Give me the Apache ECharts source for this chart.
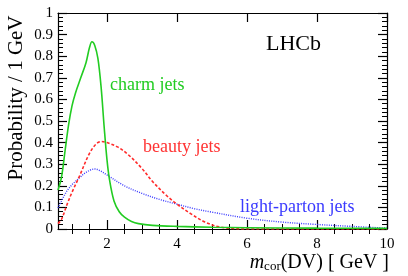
<!DOCTYPE html>
<html>
<head>
<meta charset="utf-8">
<script src="https://cdn.jsdelivr.net/npm/echarts@6/dist/echarts.min.js"></script>
<style>html,body{margin:0;padding:0;background:#fff;}#c{width:408px;height:276px;}</style>
</head>
<body>
<div id="c"></div>
<script>
// ---- data ----
const xMajorTicks = [2, 4, 6, 8, 10];
const xMinorTicks = [1, 1.5, 2.5, 3, 3.5, 4.5, 5, 5.5, 6.5, 7, 7.5, 8.5, 9, 9.5];
const yTickStep = 0.1;

const charmX = [0.6, 0.7, 0.8, 0.9, 1.0, 1.1, 1.25, 1.4, 1.5, 1.57, 1.65, 1.74, 1.83, 1.92, 2.0, 2.07, 2.2, 2.35, 2.5, 2.7, 2.9, 3.3, 4, 5, 6, 8, 10];
const charmY = [0.18, 0.24, 0.36, 0.48, 0.57, 0.63, 0.70, 0.77, 0.84, 0.867, 0.85, 0.79, 0.66, 0.47, 0.32, 0.23, 0.13, 0.08, 0.055, 0.035, 0.025, 0.017, 0.012, 0.008, 0.006, 0.004, 0.003];

const beautyX = [0.6, 0.7, 0.85, 1.0, 1.2, 1.5, 1.7, 1.85, 2.0, 2.3, 2.6, 3.0, 3.3, 3.7, 4.0, 4.4, 4.8, 5.2, 5.6, 6, 8, 10];
const beautyY = [0.025, 0.045, 0.11, 0.17, 0.24, 0.35, 0.395, 0.405, 0.4, 0.38, 0.345, 0.28, 0.22, 0.155, 0.115, 0.07, 0.032, 0.01, 0.002, 0, 0, 0];

const lightX = [0.6, 0.7, 0.85, 1.0, 1.2, 1.4, 1.65, 1.8, 2.0, 2.5, 3.0, 3.5, 4.0, 4.5, 5.0, 6.0, 7.0, 8.0, 9.0, 10.0];
const lightY = [0.097, 0.13, 0.175, 0.205, 0.235, 0.262, 0.278, 0.27, 0.25, 0.2, 0.165, 0.137, 0.115, 0.094, 0.078, 0.05, 0.032, 0.021, 0.012, 0.004];

const seriesNames = ['charm jets', 'beauty jets', 'light-parton jets'];
// ---------------

const F = '"Liberation Serif", "DejaVu Serif", serif';
const pairs = (xs, ys) => xs.map((x, i) => [x, ys[i]]);
const chart = echarts.init(document.getElementById('c'), null, {renderer: 'canvas'});

const lineBlack = {show: true, onZero: false, lineStyle: {color: '#000', width: 1.2}};
const xBase = {type: 'value', min: 0.6, max: 10, splitLine: {show: false}, offset: 0};
const yBase = {type: 'value', min: 0, max: 1, interval: yTickStep, splitLine: {show: false}, offset: 0};

chart.setOption({
  animation: false,
  backgroundColor: '#fff',
  grid: {left: 58, right: 21, top: 13, bottom: 47, containLabel: false},
  xAxis: [
    Object.assign({}, xBase, {position: 'bottom', axisLine: lineBlack,
      axisTick: {show: true, inside: true, length: 9, customValues: xMajorTicks, lineStyle: {color: '#000', width: 1.2}},
      axisLabel: {show: true, customValues: xMajorTicks, color: '#000', fontSize: 15, fontFamily: F, margin: 8}}),
    Object.assign({}, xBase, {position: 'bottom', axisLine: {show: false},
      axisTick: {show: true, inside: true, length: 5, customValues: xMinorTicks, lineStyle: {color: '#000', width: 1}},
      axisLabel: {show: false}}),
    Object.assign({}, xBase, {position: 'top', axisLine: lineBlack,
      axisTick: {show: true, inside: true, length: 9, customValues: xMajorTicks, lineStyle: {color: '#000', width: 1.2}},
      axisLabel: {show: false}}),
    Object.assign({}, xBase, {position: 'top', axisLine: {show: false},
      axisTick: {show: true, inside: true, length: 5, customValues: xMinorTicks, lineStyle: {color: '#000', width: 1}},
      axisLabel: {show: false}})
  ],
  yAxis: [
    Object.assign({}, yBase, {position: 'left', axisLine: lineBlack,
      axisTick: {show: true, inside: true, length: 9, lineStyle: {color: '#000', width: 1.2}},
      minorTick: {show: true, splitNumber: 5, length: 5, lineStyle: {color: '#000', width: 1}},
      axisLabel: {show: true, color: '#000', fontSize: 15, fontFamily: F, margin: 5,
        formatter: v => String(+v.toFixed(1))}}),
    Object.assign({}, yBase, {position: 'right', axisLine: lineBlack,
      axisTick: {show: true, inside: true, length: 9, lineStyle: {color: '#000', width: 1.2}},
      minorTick: {show: true, splitNumber: 5, length: 5, lineStyle: {color: '#000', width: 1}},
      axisLabel: {show: false}})
  ],
  series: [
    {name: seriesNames[0], type: 'line', xAxisIndex: 0, yAxisIndex: 0, data: pairs(charmX, charmY),
      smooth: 0.35, showSymbol: false, lineStyle: {color: '#22cc22', width: 1.6, type: 'solid'}, z: 3},
    {name: seriesNames[1], type: 'line', xAxisIndex: 0, yAxisIndex: 0, data: pairs(beautyX, beautyY),
      smooth: 0.35, showSymbol: false, lineStyle: {color: '#ff2a2a', width: 1.6, type: [3, 2]}, z: 2},
    {name: seriesNames[2], type: 'line', xAxisIndex: 0, yAxisIndex: 0, data: pairs(lightX, lightY),
      smooth: 0.35, showSymbol: false, lineStyle: {color: '#3a3aff', width: 1.4, type: [1, 1.3]}, z: 1}
  ],
  graphic: [
    {type: 'text', left: 266, top: 33, style: {text: 'LHCb', font: '22px ' + F, fill: '#000'}},
    {type: 'text', left: 110, top: 76, style: {text: seriesNames[0], font: '18px ' + F, fill: '#22cc22'}},
    {type: 'text', left: 143, top: 138, style: {text: seriesNames[1], font: '18px ' + F, fill: '#ff3333'}},
    {type: 'text', left: 240, top: 198, style: {text: seriesNames[2], font: '18px ' + F, fill: '#3a3aff'}},
    {type: 'text', x: 16, y: 98, rotation: Math.PI / 2,
      style: {text: 'Probability / 1 GeV', font: '21px ' + F, fill: '#000', align: 'center', verticalAlign: 'middle'}},
    {type: 'text', right: 19, top: 253,
      style: {text: '{i|m}{s|cor}(DV) [ GeV ]', font: '20px ' + F, fill: '#000',
        rich: {i: {fontFamily: F, fontStyle: 'italic', fontSize: 20, fill: '#000'},
               s: {fontFamily: F, fontSize: 13, fill: '#000', padding: [8, 0, 0, 0]}}}}
  ]
});
</script>
</body>
</html>
